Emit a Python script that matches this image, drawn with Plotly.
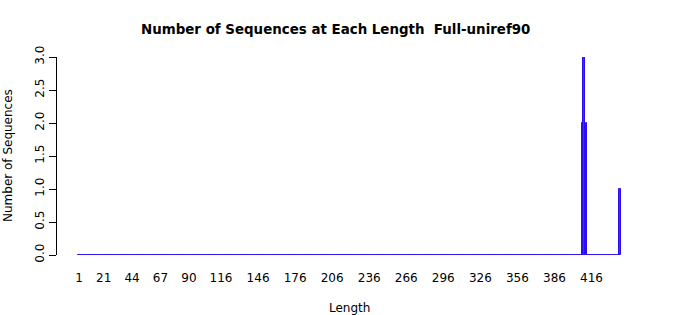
import plotly.graph_objects as go

# Data: sequence lengths with nonzero counts (all other lengths 1..max have 0)
nonzero_lengths = [409, 410, 412, 439]
nonzero_counts = [2, 3, 2, 1]
min_length = 1
max_length = 439

tick_values = [1, 21, 44, 67, 90, 116, 146, 176, 206, 236, 266, 296, 326, 356, 386, 416]
y_ticks = [0.0, 0.5, 1.0, 1.5, 2.0, 2.5, 3.0]

lengths = list(range(min_length, max_length + 1))
count_map = dict(zip(nonzero_lengths, nonzero_counts))
counts = [count_map.get(L, 0) for L in lengths]

FILL = "#6A1BDB"
EDGE = "#2A10F0"
FONT = "DejaVu Sans"

fig = go.Figure()
fig.add_trace(go.Bar(
    x=lengths, y=counts, width=1.0,
    marker=dict(color=FILL, line=dict(color=EDGE, width=1)),
    hoverinfo="x+y", showlegend=False,
))
fig.add_trace(go.Scatter(
    x=[min(lengths), max(lengths)], y=[0, 0], mode="lines",
    line=dict(color=EDGE, width=1.2), showlegend=False, hoverinfo="skip",
))

fig.update_layout(
    width=700, height=315,
    margin=dict(l=57, r=57, t=57, b=60, pad=0),
    paper_bgcolor="white", plot_bgcolor="white",
    font=dict(family=FONT, size=12, color="black"),
    bargap=0,
    xaxis=dict(
        range=[-16.8, 457.7], showgrid=False, zeroline=False, showline=False,
        tickmode="array", tickvals=tick_values, ticktext=[str(v) for v in tick_values],
        ticks="outside", ticklen=12, tickcolor="rgba(0,0,0,0)",
        tickfont=dict(size=12, family=FONT),
    ),
    yaxis=dict(
        range=[0, 3], showgrid=False, zeroline=False, showline=True,
        linecolor="black", linewidth=1,
        tickmode="array", tickvals=y_ticks, ticktext=[f"{v:.1f}" for v in y_ticks],
        ticks="outside", ticklen=7, tickcolor="black", tickwidth=1,
        tickangle=-90, tickfont=dict(size=12, family=FONT),
    ),
    annotations=[
        dict(text="<b>Number of Sequences at Each Length  Full-uniref90</b>",
             xref="paper", yref="paper", x=0.5, y=0, xanchor="center", yanchor="middle",
             xshift=-15, yshift=226, showarrow=False, font=dict(size=13.4, family=FONT)),
        dict(text="Length", xref="paper", yref="paper", x=0.5, y=0,
             xanchor="center", yanchor="middle", xshift=-1, yshift=-53, showarrow=False,
             font=dict(size=12, family=FONT)),
        dict(text="Number of Sequences", xref="paper", yref="paper", x=0, y=0.5,
             xanchor="center", yanchor="middle", xshift=-49, textangle=-90,
             showarrow=False, font=dict(size=12, family=FONT)),
    ],
)

fig.write_html("out.html")
